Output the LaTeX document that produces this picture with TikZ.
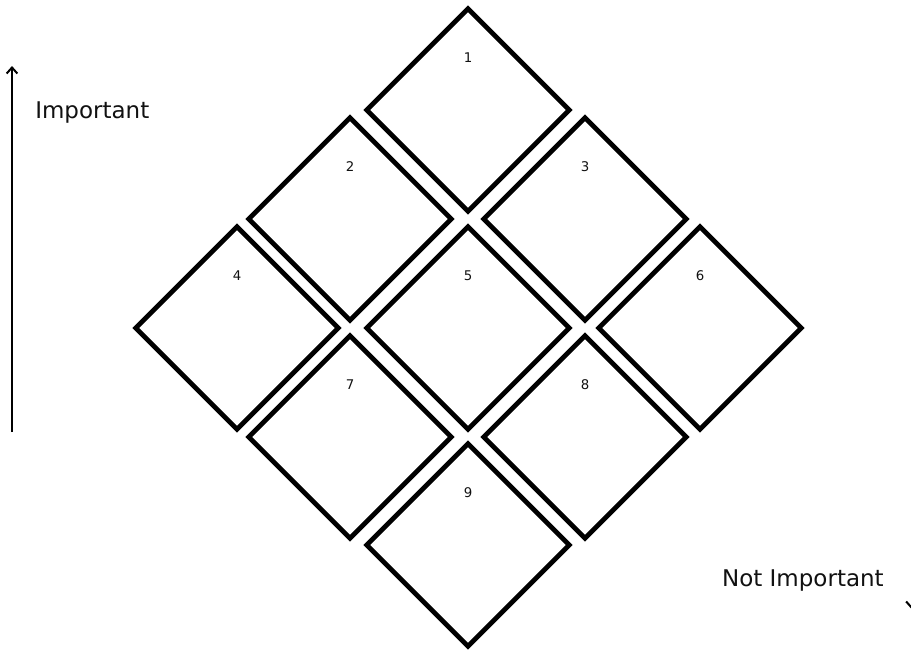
\documentclass[tikz,border=0pt]{standalone}
\usepackage{fontspec}
\setmainfont{DejaVu Sans}
\usetikzlibrary{arrows.meta, shapes.geometric, positioning, calc}
\definecolor{gridInk}{HTML}{000000}
\definecolor{gridText}{HTML}{111111}
\tikzset{
  cell/.style={
    draw=gridInk, shape=diamond, line width=3.6pt,
    minimum width=152pt, minimum height=152pt, inner sep=0pt, outer sep=0pt
  },
  cellnum/.style={font=\fontsize{10}{12}\selectfont, text=gridText, inner sep=0pt, anchor=base},
  axisarrow/.style={-{Straight Barb[length=4.5pt,width=8pt]}, line width=1.5pt, gridInk},
  axislabel/.style={font=\fontsize{17.25}{20}\selectfont, text=gridText, inner sep=0pt}
}
\begin{document}
\begin{tikzpicture}[x=0.75pt, y=-0.75pt]
  \useasboundingbox (0,0) rectangle (911,651);
  % priority grid
  \foreach \n/\x/\y in {1/468/110, 2/350/219, 3/585/219, 4/237/328, 5/468/328,
                        6/700/328, 7/350/437, 8/585/437, 9/468/545}{
    \node[cell] (d\n) at (\x,\y) {};
    \node[cellnum] (n\n) at ([yshift=36pt]d\n.center) {\n};
  }
  % axes
  \coordinate (imp-lo) at (12,432);
  \coordinate (imp-hi) at (12,66);
  \draw[axisarrow] (imp-lo) -- (imp-hi);
  \node[axislabel, anchor=base west] (imp) at (35,118) {Important};
  \coordinate (nimp-hi) at (911.5,500);
  \coordinate (nimp-lo) at (911.5,609);
  \draw[axisarrow] (nimp-hi) -- (nimp-lo);
  \node[axislabel, anchor=base east] (nimp) at (884,586) {Not Important};
\end{tikzpicture}
\end{document}
